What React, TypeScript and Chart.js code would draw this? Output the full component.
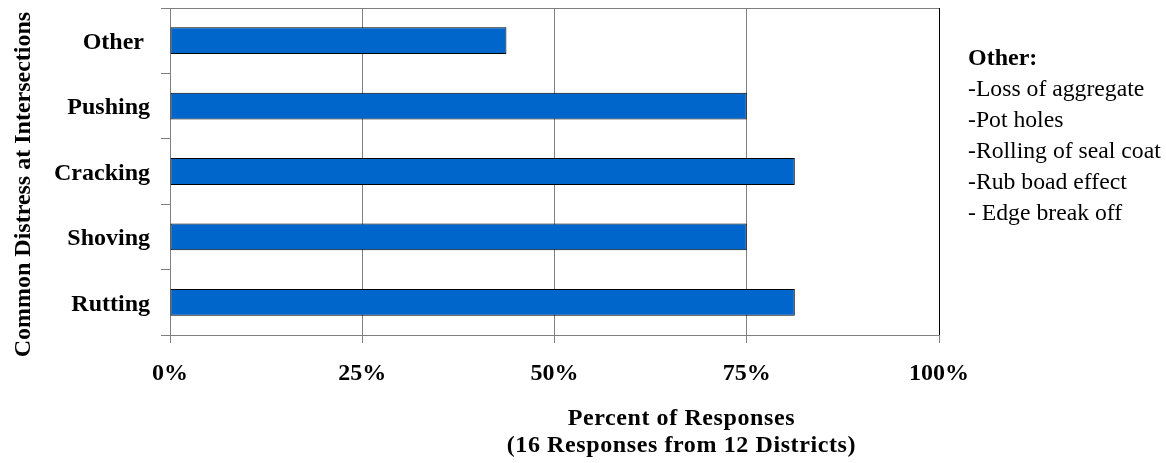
import React, { useEffect, useRef } from "react";
import { Chart, registerables } from "chart.js";

Chart.register(...registerables);

const categories = ["Other ", "Pushing", "Cracking", "Shoving", "Rutting"];
const percentValues = [43.75, 75, 81.25, 75, 81.25];
const xTickStep = 25;
const xMin = 0;
const xMax = 100;
const xTitleLines = ["Percent of Responses", "(16 Responses from 12 Districts)"];
const yTitle = "Common Distress at Intersections";
const noteTitle = "Other:";
const noteLines = [
  "-Loss of aggregate",
  "-Pot holes",
  "-Rolling of seal coat",
  "-Rub boad effect",
  "- Edge break off",
];

const FAMILY = '"Liberation Serif", "Times New Roman", serif';

const decorPlugin = {
  id: "decor",
  beforeUpdate(chart: any) {
    chart.ctx.letterSpacing = "0px";
  },
  beforeDraw(chart: any) {
    chart.ctx.letterSpacing = "0px";
  },
  afterDraw(chart: any) {
    const { ctx, chartArea: a } = chart;
    ctx.save();
    // plot border top and right
    ctx.lineWidth = 1;
    ctx.strokeStyle = "#808080";
    ctx.beginPath();
    ctx.moveTo(a.left, Math.round(a.top) + 0.5);
    ctx.lineTo(a.right, Math.round(a.top) + 0.5);
    ctx.stroke();
    ctx.strokeStyle = "#000000";
    ctx.beginPath();
    ctx.moveTo(Math.round(a.right) + 0.5, a.top);
    ctx.lineTo(Math.round(a.right) + 0.5, a.bottom);
    ctx.stroke();

    ctx.fillStyle = "#000000";
    // x axis title
    ctx.letterSpacing = "0.6px";
    ctx.font = `bold 24px ${FAMILY}`;
    ctx.textAlign = "center";
    ctx.textBaseline = "alphabetic";
    const cx = a.left + (a.right - a.left) * 0.665;
    xTitleLines.forEach((line, i) => {
      ctx.fillText(line, cx, a.bottom + 90 + i * 27);
    });

    // y axis title
    ctx.save();
    ctx.translate(24, a.top + (a.bottom - a.top) * 0.54);
    ctx.rotate(-Math.PI / 2);
    ctx.textAlign = "center";
    ctx.textBaseline = "middle";
    ctx.letterSpacing = "0px";
    ctx.fillText(yTitle, 0, 0);
    ctx.restore();

    // note
    ctx.letterSpacing = "0px";
    ctx.textAlign = "left";
    ctx.textBaseline = "alphabetic";
    const nx = a.right + 29;
    ctx.font = `bold 24px ${FAMILY}`;
    ctx.fillText(noteTitle, nx, a.top + 57);
    ctx.font = `23.7px ${FAMILY}`;
    noteLines.forEach((line, i) => {
      ctx.fillText(line, nx, a.top + 57 + (i + 1) * 31);
    });
    ctx.restore();
  },
};

export default function App() {
  const ref = useRef<HTMLCanvasElement | null>(null);

  useEffect(() => {
    document.body.style.margin = "0";
    const canvas = ref.current;
    if (!canvas) return;
    const chart = new Chart(canvas, {
      type: "bar",
      data: {
        labels: categories,
        datasets: [
          {
            data: percentValues,
            backgroundColor: "#0066CC",
            borderColor: "#000000",
            borderWidth: 1,
            borderSkipped: false,
            barPercentage: 0.41,
            categoryPercentage: 1,
          },
        ],
      },
      options: {
        indexAxis: "y",
        responsive: false,
        animation: false,
        devicePixelRatio: 1,
        layout: { padding: { left: 0, top: 8, right: 227, bottom: 0 } },
        plugins: {
          legend: { display: false },
          tooltip: { enabled: false },
          title: { display: false },
        },
        scales: {
          x: {
            min: xMin,
            max: xMax,
            ticks: {
              stepSize: xTickStep,
              callback: (v: any) => `${v}%`,
              color: "#000000",
              font: { family: FAMILY, size: 24, weight: "bold" },
              padding: 16,
              maxRotation: 0,
            },
            grid: {
              color: "#808080",
              lineWidth: 1,
              tickLength: 8,
              drawTicks: true,
            },
            border: { display: true, color: "#808080" },
            afterFit: (s: any) => {
              s.height = 128;
              s.paddingLeft = 0;
              s.paddingRight = 0;
            },
          },
          y: {
            ticks: {
              color: "#000000",
              font: { family: FAMILY, size: 24, weight: "bold" },
              padding: 11,
              labelOffset: 2,
            },
            grid: {
              drawOnChartArea: false,
              drawTicks: true,
              tickLength: 9,
              color: "#808080",
              offset: true,
            },
            border: { display: true, color: "#808080" },
            afterFit: (s: any) => {
              s.width = 170;
              s.paddingTop = 0;
              s.paddingBottom = 0;
            },
          },
        },
      },
      plugins: [decorPlugin],
    });
    return () => chart.destroy();
  }, []);

  return (
    <div style={{ position: "absolute", left: 0, top: 0, width: 1166, height: 463, background: "#ffffff" }}>
      <canvas ref={ref} width={1166} height={463} style={{ display: "block" }} />
    </div>
  );
}
